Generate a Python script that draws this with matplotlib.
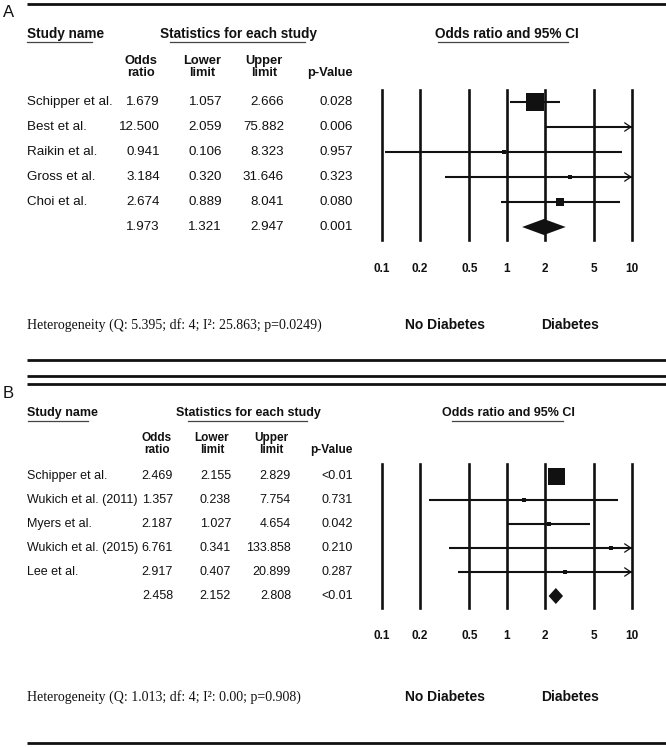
import matplotlib.pyplot as plt
from matplotlib.ticker import NullLocator

# ---- data, panel A
studies_a = ["Schipper et al.", "Best et al.", "Raikin et al.", "Gross et al.", "Choi et al.", ""]
or_a = [1.679, 12.500, 0.941, 3.184, 2.674, 1.973]
lo_a = [1.057, 2.059, 0.106, 0.320, 0.889, 1.321]
hi_a = [2.666, 75.882, 8.323, 31.646, 8.041, 2.947]
p_a = ["0.028", "0.006", "0.957", "0.323", "0.080", "0.001"]
het_a = "Heterogeneity (Q: 5.395; df: 4; I²: 25.863; p=0.0249)"

# ---- data, panel B
studies_b = ["Schipper et al.", "Wukich et al. (2011)", "Myers et al.",
             "Wukich et al. (2015)", "Lee et al.", ""]
or_b = [2.469, 1.357, 2.187, 6.761, 2.917, 2.458]
lo_b = [2.155, 0.238, 1.027, 0.341, 0.407, 2.152]
hi_b = [2.829, 7.754, 4.654, 133.858, 20.899, 2.808]
p_b = ["<0.01", "0.731", "0.042", "0.210", "0.287", "<0.01"]
het_b = "Heterogeneity (Q: 1.013; df: 4; I²: 0.00; p=0.908)"

ticks = [0.1, 0.2, 0.5, 1, 2, 5, 10]
tick_labels = ["0.1", "0.2", "0.5", "1", "2", "5", "10"]

# box sizes (px) as drawn in the picture
box_a = [18, 0, 4, 5, 8]
box_b = [17, 4, 4, 4, 4]

W, H = 666, 748
SANS = ["Liberation Sans", "DejaVu Sans"]
NARROW = ["Liberation Sans Narrow", "Liberation Sans", "DejaVu Sans"]
SERIF = ["Liberation Serif", "DejaVu Serif"]
INK = "#111111"

fig = plt.figure(figsize=(W / 100, H / 100), dpi=100)
bg = fig.add_axes([0, 0, 1, 1])
bg.set_xlim(0, W)
bg.set_ylim(H, 0)
bg.axis("off")


def hline(y, x0=27, x1=666, lw=2.0):
    bg.plot([x0, x1], [y, y], color=INK, lw=lw, solid_capstyle="butt")


def panel(lay, studies, ors, los, his, ps, boxes, het):
    fs = lay["fs"]
    bfs = lay["bfs"]
    y0 = lay["y0"]
    # headers
    bg.text(27, y0, "Study name", fontsize=bfs, fontweight="bold", family=SANS,
            ha="left", va="center", color=INK)
    bg.text(lay["stat_x"], y0, "Statistics for each study", fontsize=bfs,
            fontweight="bold", family=SANS, ha="center", va="center", color=INK)
    bg.text(lay["ci_x"], y0, "Odds ratio and 95% CI", fontsize=bfs,
            fontweight="bold", family=SANS, ha="center", va="center", color=INK)
    uy = y0 + 8
    for a, b in lay["underlines"]:
        bg.plot([a, b], [uy, uy], color="#444444", lw=0.9)
    hy = lay["hdr_y"]
    for x, t in zip(lay["hdr_x"], ["Odds\nratio", "Lower\nlimit", "Upper\nlimit"]):
        bg.text(x, hy, t, fontsize=bfs - 0.5, fontweight="bold", family=SANS,
                ha="center", va="center", multialignment="center",
                linespacing=0.95, color=INK)
    bg.text(353, hy + 6, "p-Value", fontsize=bfs - 0.5, fontweight="bold",
            family=SANS, ha="right", va="center", color=INK)

    # table rows
    rows = [lay["row0"] + lay["dy"] * i for i in range(len(ors))]
    cx = lay["col_x"]
    for i, y in enumerate(rows):
        bg.text(27, y, studies[i], fontsize=fs, family=SANS, ha="left",
                va="center", color=INK)
        vals = [f"{ors[i]:.3f}", f"{los[i]:.3f}", f"{his[i]:.3f}", ps[i]]
        for x, v in zip(cx, vals):
            bg.text(x, y, v, fontsize=fs, family=SANS, ha="right",
                    va="center", color=INK)

    # forest plot axes
    top = lay["row0"] - lay["dy"] * 0.5
    bot = rows[-1] + lay["dy"] * 0.5
    x0, x1 = 382, 632
    ax = fig.add_axes([x0 / W, 1 - bot / H, (x1 - x0) / W, (bot - top) / H])
    ax.set_xscale("log")
    ax.set_xlim(0.1, 10)
    ax.set_ylim(len(ors) - 0.5, -0.5)
    ax.patch.set_alpha(0)
    for s in ax.spines.values():
        s.set_visible(False)
    ax.set_yticks([])
    ax.xaxis.set_minor_locator(NullLocator())
    ax.set_xticks(ticks)
    ax.set_xticklabels(tick_labels, fontsize=8.5, fontweight="bold", family=NARROW,
                       color=INK)
    ax.tick_params(axis="x", length=0, pad=lay["tick_pad"])
    for t in ticks:
        ax.axvline(t, color=INK, lw=1.9, clip_on=False)

    n = len(ors) - 1
    for i in range(n):
        lo, hi = max(los[i], 0.1), min(his[i], 10)
        ax.plot([lo, hi], [i, i], color=INK, lw=1.5, solid_capstyle="butt",
                clip_on=False)
        if his[i] > 10:
            ax.annotate("", xy=(10, i), xytext=(8.6, i),
                        arrowprops=dict(arrowstyle="->,head_length=0.45,head_width=0.3",
                                        lw=0.9, color=INK, shrinkA=0, shrinkB=0))
        if 0.1 <= ors[i] <= 10 and boxes[i] > 0:
            ax.plot(ors[i], i, marker="s", ms=boxes[i] * 0.72, color=INK,
                    mec=INK, mew=0, clip_on=False)
    # pooled diamond
    h = lay["dia_h"] / lay["dy"]
    ax.fill([los[n], ors[n], his[n], ors[n]], [n, n - h, n, n + h],
            color=INK, lw=0, clip_on=False)

    # footer
    fy = lay["foot_y"]
    bg.text(27, fy, het, fontsize=10, family=SERIF, ha="left", va="center",
            color=INK)
    bg.text(445, fy, "No Diabetes", fontsize=10, fontweight="bold", family=NARROW,
            ha="center", va="center", color=INK)
    bg.text(570, fy, "Diabetes", fontsize=10, fontweight="bold", family=NARROW,
            ha="center", va="center", color=INK)


lay_a = dict(fs=9.6, bfs=9.8, y0=34, stat_x=238, ci_x=507,
             underlines=[(27, 92), (170, 305), (438, 568)],
             hdr_x=[141, 202, 264], hdr_y=67, row0=102, dy=25,
             col_x=[160, 222, 284, 353], dia_h=8, tick_pad=17, foot_y=325)
lay_b = dict(fs=9.0, bfs=9.0, y0=413, stat_x=248, ci_x=508,
             underlines=[(28, 88), (188, 307), (452, 563)],
             hdr_x=[157, 212, 271], hdr_y=444, row0=476, dy=24,
             col_x=[173, 231, 291, 353], dia_h=8, tick_pad=16, foot_y=697)

# rules and panel letters
hline(4)
hline(360)
hline(376)
hline(384)
hline(743)
bg.text(3, 12, "A", fontsize=12, family=SANS, ha="left", va="center", color=INK)
bg.text(3, 393, "B", fontsize=12, family=SANS, ha="left", va="center", color=INK)

panel(lay_a, studies_a, or_a, lo_a, hi_a, p_a, box_a, het_a)
panel(lay_b, studies_b, or_b, lo_b, hi_b, p_b, box_b, het_b)

fig.savefig("out.png", dpi=100, facecolor="white")
